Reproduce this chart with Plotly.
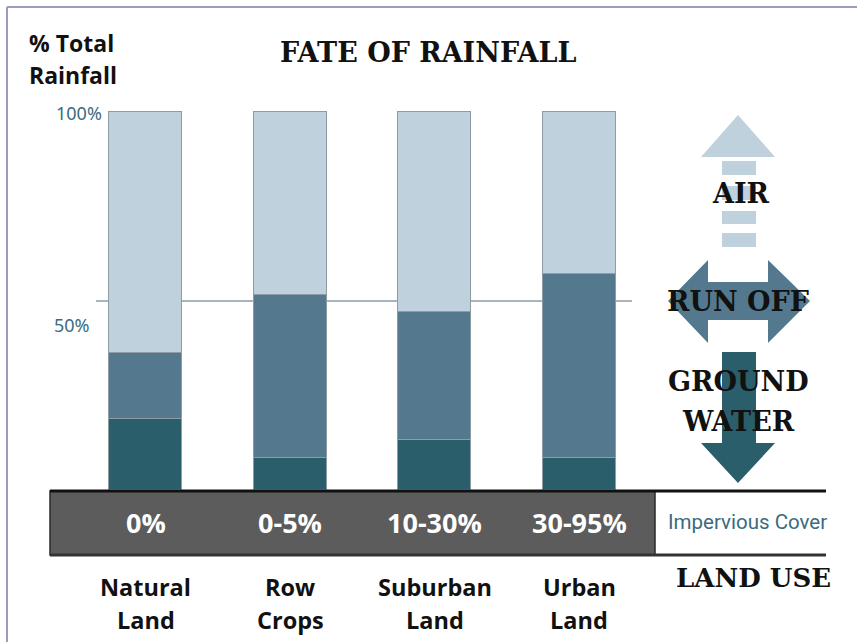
import plotly.graph_objects as go

W, H = 857, 642

# ---- data ----
categories = ["Natural Land", "Row Crops", "Suburban Land", "Urban Land"]
ground_water = [18.8, 8.5, 13.2, 8.5]
run_off = [17.4, 43.1, 33.9, 48.6]
air = [63.8, 48.4, 52.9, 42.9]
impervious_cover = ["0%", "0-5%", "10-30%", "30-95%"]
land_line1 = ["Natural", "Row", "Suburban", "Urban"]
land_line2 = ["Land", "Crops", "Land", "Land"]
y_tick_labels = ["100%", "50%"]
y_tick_values = [100, 50]

# ---- colours ----
C_AIR = "#bfd1dd"
C_RUN = "#54798e"
C_GW = "#2b5e6b"
C_TEAL = "#3b6b7f"
SLAB = "DejaVu Serif"
SANS = "Open Sans"


def px(x):
    return x / W


def py(y):
    return 1 - y / H


def path(points):
    return "M " + " L ".join(f"{px(x):.5f},{py(y):.5f}" for x, y in points) + " Z"


fig = go.Figure()
bar_w = 73 / 144.5
line = dict(color="#8e9ca6", width=1)
fig.add_trace(go.Bar(x=categories, y=ground_water, width=bar_w, marker=dict(color=C_GW, line=line), name="Ground water"))
fig.add_trace(go.Bar(x=categories, y=run_off, width=bar_w, marker=dict(color=C_RUN, line=line), name="Run off"))
fig.add_trace(go.Bar(x=categories, y=air, width=bar_w, marker=dict(color=C_AIR, line=line), name="Air"))

shapes = []
# frame
shapes.append(dict(type="line", xref="paper", yref="paper", x0=px(7), x1=px(7), y0=py(7), y1=py(642),
                   line=dict(color="#9c9cbc", width=2)))
shapes.append(dict(type="line", xref="paper", yref="paper", x0=px(7), x1=px(857), y0=py(7), y1=py(7),
                   line=dict(color="#9c9cbc", width=2)))
# 50% reference line
shapes.append(dict(type="line", xref="paper", yref="y", x0=px(96), x1=px(632), y0=50, y1=50,
                   line=dict(color="#8c9ca6", width=1.5), layer="below"))
# impervious strip
shapes.append(dict(type="rect", xref="paper", yref="paper", x0=px(50), x1=px(655), y0=py(491), y1=py(555),
                   fillcolor="#5c5c5c", line=dict(color="#2a2a2a", width=1.5)))
shapes.append(dict(type="line", xref="paper", yref="paper", x0=px(50), x1=px(826), y0=py(491), y1=py(491),
                   line=dict(color="#111111", width=3)))
shapes.append(dict(type="line", xref="paper", yref="paper", x0=px(50), x1=px(826), y0=py(555), y1=py(555),
                   line=dict(color="#333333", width=3)))

# AIR arrow (up, dashed stem)
shapes.append(dict(type="path", xref="paper", yref="paper",
                   path=path([(738, 115), (775, 157), (701, 157)]), fillcolor=C_AIR, line=dict(width=0)))
for y0, y1 in [(161, 175), (186, 200), (211, 224), (233, 247)]:
    shapes.append(dict(type="rect", xref="paper", yref="paper", x0=px(722), x1=px(756), y0=py(y0), y1=py(y1),
                       fillcolor=C_AIR, line=dict(width=0)))
# RUN OFF double arrow
shapes.append(dict(type="path", xref="paper", yref="paper",
                   path=path([(668, 301), (708, 260), (708, 282), (768, 282), (768, 260), (810, 301),
                              (768, 343), (768, 320), (708, 320), (708, 343)]),
                   fillcolor=C_RUN, line=dict(width=0)))
# GROUND WATER arrow (down)
shapes.append(dict(type="path", xref="paper", yref="paper",
                   path=path([(722, 352), (756, 352), (756, 443), (775, 443), (738, 483), (701, 443), (722, 443)]),
                   fillcolor=C_GW, line=dict(width=0)))

ann = []
ann.append(dict(text="<b>FATE OF RAINFALL</b>", xref="paper", yref="paper", x=px(428), y=py(52),
                font=dict(family=SLAB, size=27, color="#111111")))
ann.append(dict(text="<b>% Total</b>", xref="paper", yref="paper", x=px(27), y=py(43), xanchor="left",
                font=dict(family=SANS, size=23, color="#111111")))
ann.append(dict(text="<b>Rainfall</b>", xref="paper", yref="paper", x=px(27), y=py(75), xanchor="left",
                font=dict(family=SANS, size=23, color="#111111")))
tick_y_px = [113, 325]
for lab, yp in zip(y_tick_labels, tick_y_px):
    ann.append(dict(text=lab, xref="paper", yref="paper", x=px(104 if lab == "100%" else 92), y=py(yp),
                    xanchor="right", font=dict(family="Noto Sans", size=18, color=C_TEAL)))
# arrow labels
for t, x, y in [("AIR", 741, 193), ("RUN OFF", 738, 302), ("GROUND", 738, 382), ("WATER", 738, 421)]:
    ann.append(dict(text=f"<b>{t}</b>", xref="paper", yref="paper", x=px(x), y=py(y),
                    font=dict(family=SLAB, size=27, color="#111111")))
# impervious labels
for c, lab in zip(categories, impervious_cover):
    ann.append(dict(text=f"<b>{lab}</b>", xref="x", yref="paper", x=c, y=py(522),
                    font=dict(family=SANS, size=27, color="white")))
ann.append(dict(text="Impervious Cover", xref="paper", yref="paper", x=px(747), y=py(522),
                font=dict(family="Roboto", size=20.5, color=C_TEAL)))
# land use labels
for c, l1, l2 in zip(categories, land_line1, land_line2):
    ann.append(dict(text=f"<b>{l1}</b>", xref="x", yref="paper", x=c, y=py(587),
                    font=dict(family=SANS, size=23.5, color="#111111")))
    ann.append(dict(text=f"<b>{l2}</b>", xref="x", yref="paper", x=c, y=py(620),
                    font=dict(family=SANS, size=23.5, color="#111111")))
ann.append(dict(text="<b>LAND USE</b>", xref="paper", yref="paper", x=px(753), y=py(578),
                font=dict(family=SLAB, size=26, color="#111111")))
for a in ann:
    a.setdefault("showarrow", False)
    a.setdefault("xanchor", "center")
    a.setdefault("yanchor", "middle")

a0 = -145.5 / 144.5
fig.update_layout(
    width=W, height=H, margin=dict(l=0, r=0, t=0, b=0),
    paper_bgcolor="white", plot_bgcolor="rgba(0,0,0,0)",
    barmode="stack", showlegend=False, bargap=0,
    xaxis=dict(type="category", range=[a0, a0 + W / 144.5], visible=False, domain=[0, 1]),
    yaxis=dict(range=[-152 / 3.78, 490 / 3.78], visible=False, domain=[0, 1]),
    shapes=shapes, annotations=ann,
)

fig.write_html("out.html")
